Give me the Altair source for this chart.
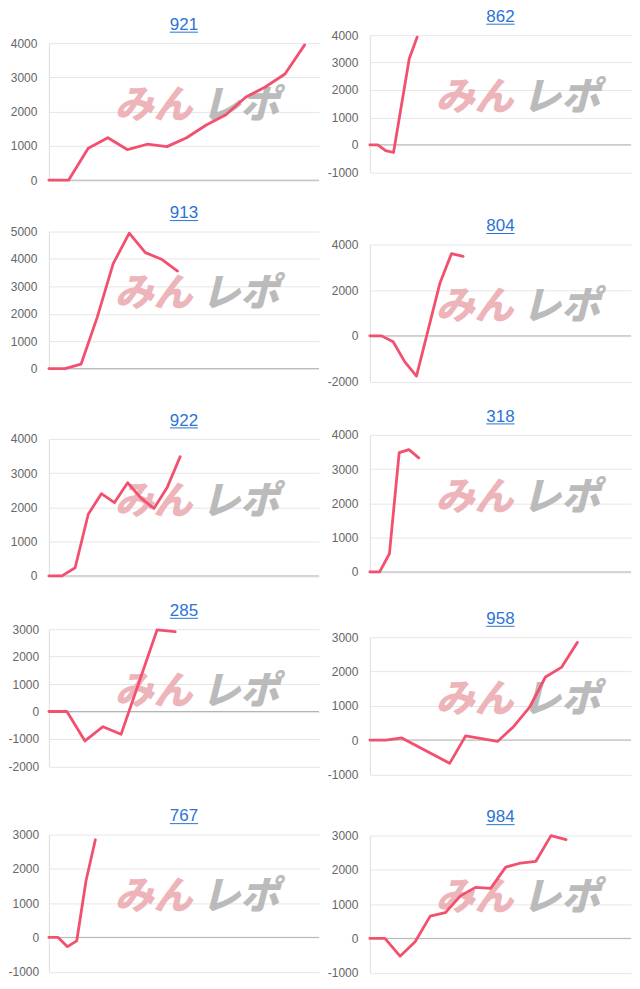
import altair as alt
import pandas as pd

# ---- data ----
titles = ["921", "862", "913", "804", "922", "318", "285", "958", "767", "984"]

p921_x = list(range(14))
p921_y = [0, 0, 930, 1240, 890, 1050, 980, 1240, 1610, 1910, 2420, 2720, 3100, 3950]

p862_x = [0, 1, 2, 3, 5, 6]
p862_y = [0, 0, -210, -280, 3150, 3930]

p913_x = list(range(9))
p913_y = [0, 0, 160, 1860, 3830, 4940, 4230, 3990, 3560]

p804_x = [0, 1, 2, 3, 4, 6, 7, 8]
p804_y = [0, 0, -260, -1140, -1760, 2290, 3600, 3480]

p922_x = list(range(11))
p922_y = [0, 0, 240, 1800, 2400, 2140, 2720, 2280, 1970, 2570, 3480]

p318_x = list(range(6))
p318_y = [0, 0, 530, 3480, 3570, 3330]

p285_x = [0, 1, 2, 3, 4, 6, 7]
p285_y = [0, 0, -1075, -555, -833, 2980, 2910]

p958_x = [0, 1, 2, 5, 6, 8, 9, 10, 11, 12, 13]
p958_y = [0, 0, 60, -680, 120, -40, 390, 950, 1840, 2120, 2850]

p767_x = list(range(6))
p767_y = [0, 0, -270, -100, 1660, 2850]

p984_x = list(range(14))
p984_y = [0, 0, -520, -100, 650, 750, 1240, 1490, 1460, 2080, 2200, 2250, 3000, 2880]

y_domains = {
    "921": (0, 4000, 1000), "862": (-1000, 4000, 1000),
    "913": (0, 5000, 1000), "804": (-2000, 4000, 2000),
    "922": (0, 4000, 1000), "318": (0, 4000, 1000),
    "285": (-2000, 3000, 1000), "958": (-1000, 3000, 1000),
    "767": (-1000, 3000, 1000), "984": (-1000, 3000, 1000),
}
x_max = {"921": 13.73, "862": 33.1, "913": 16.8, "804": 22.4, "922": 20.58,
         "318": 26.7, "285": 14.97, "958": 16.36, "767": 29.05, "984": 17.3}

series = {
    "921": (p921_x, p921_y), "862": (p862_x, p862_y), "913": (p913_x, p913_y),
    "804": (p804_x, p804_y), "922": (p922_x, p922_y), "318": (p318_x, p318_y),
    "285": (p285_x, p285_y), "958": (p958_x, p958_y), "767": (p767_x, p767_y),
    "984": (p984_x, p984_y),
}

# ---- style ----
LINE = "#f2506e"
TITLE_C = "#2a74d4"
FONT = "Liberation Sans"
PLOT_H = 137.5
LEFT_W, LEFT_EXT = 271, 41
RIGHT_W, RIGHT_EXT = 262, 43

x_ext = {"921": 23.5, "913": 42.5, "922": 25.5, "285": 40.5, "767": 2,
         "862": 44.1, "804": 25.5, "318": 37.3, "958": 32.7, "984": 2}


def panel(name, w, ext):
    xs, ys = series[name]
    lo, hi, step = y_domains[name]
    df = pd.DataFrame({"slot": xs, "value": ys})
    one = pd.DataFrame({"z": [0]})
    pad = 12 if lo >= 0 else (ext - 30.7 if ext < 42.7 else 12)

    y_scale = alt.Scale(domain=[lo, hi], nice=False, zero=False)
    y_axis = alt.Axis(values=list(range(lo, hi + 1, step)), title=None,
                      labelExpr="'' + datum.value", labelPadding=pad, labelOverlap=False,
                      ticks=False, grid=True, minExtent=ext)
    x_enc = alt.X("slot:Q",
                  scale=alt.Scale(domain=[0, x_max[name]], nice=False, zero=False),
                  axis=alt.Axis(labels=False, ticks=False, domain=False, grid=False,
                                title=None, minExtent=x_ext[name]))

    zero = alt.Chart(one).mark_rule(color="#b4b4b4", strokeWidth=1).encode(
        y=alt.Y("z:Q", scale=y_scale, axis=y_axis)
    )
    line = alt.Chart(df).mark_line(
        color=LINE, strokeWidth=2.8, strokeJoin="round", strokeCap="round"
    ).encode(x=x_enc, y=alt.Y("value:Q", scale=y_scale, axis=y_axis))

    wm1 = alt.Chart(one).mark_text(
        text="みん", font="Noto Sans CJK JP", fontSize=39, fontWeight=900,
        fontStyle="italic", color="#eba7ad", opacity=0.85, baseline="middle", align="center"
    ).encode(x=alt.value(105), y=alt.value(63))
    wm2 = alt.Chart(one).mark_text(
        text="レポ", font="Noto Sans CJK JP", fontSize=39, fontWeight=900,
        fontStyle="italic", color="#b0b0b0", opacity=0.85, baseline="middle", align="center"
    ).encode(x=alt.value(192), y=alt.value(63))

    ttl = alt.Chart(one).mark_text(
        text=name, font=FONT, fontSize=17, color=TITLE_C, baseline="alphabetic", align="center"
    ).encode(x=alt.value(w / 2), y=alt.value(-13.3))
    uw = 0.556 * 17 * len(name)
    ul = alt.Chart(one).mark_rule(color=TITLE_C, strokeWidth=1).encode(
        x=alt.value(w / 2 - uw / 2), x2=alt.value(w / 2 + uw / 2), y=alt.value(-11)
    )
    return alt.layer(zero, wm1, wm2, line, ttl, ul).properties(width=w, height=PLOT_H)


def spacer(h):
    return alt.Chart(pd.DataFrame({"z": [0]})).mark_rule(opacity=0, strokeWidth=0).encode(
        x=alt.value(0), y=alt.value(0), y2=alt.value(h)
    ).properties(width=1, height=h)


left = alt.vconcat(spacer(8.9),
                   *[panel(n, LEFT_W, LEFT_EXT) for n in ["921", "913", "922", "285", "767"]],
                   spacing=0)
right = alt.vconcat(spacer(0.3),
                    *[panel(n, RIGHT_W, RIGHT_EXT) for n in ["862", "804", "318", "958", "984"]],
                    spacing=0)

chart = alt.hconcat(left, right, spacing=7).properties(
    padding={"top": -3.3, "left": 0, "right": 0, "bottom": 0}
).configure_view(
    stroke=None
).configure_axis(
    labelFont=FONT, labelFontSize=12, labelColor="#666666",
    gridColor="#e6e6e6", domainColor="#dedede", domainWidth=1,
)

chart.save("out.html", embed_options={"renderer": "svg", "actions": False})
